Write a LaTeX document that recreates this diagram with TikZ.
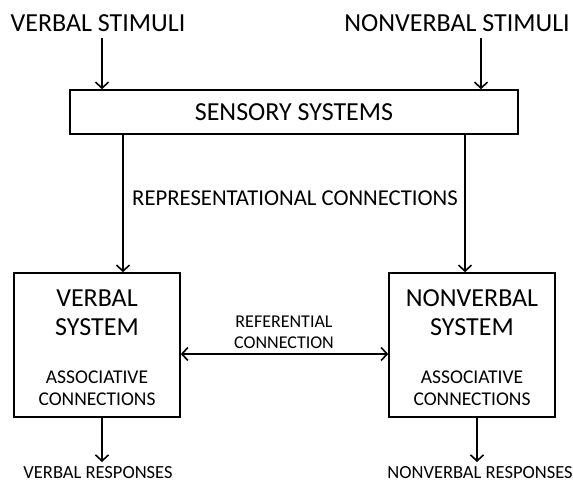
\documentclass[tikz,border=0pt]{standalone}
\usepackage{fontspec}
\setmainfont{Carlito}
\usetikzlibrary{arrows.meta}
\begin{document}
\begin{tikzpicture}[x=1pt,y=-1pt,
  arr/.style={line width=1.6pt,-{Straight Barb[length=6pt,width=13pt,line width=1.6pt]}},
  darr/.style={line width=1.6pt,{Straight Barb[length=6pt,width=13pt,line width=1.6pt]}-{Straight Barb[length=6pt,width=13pt,line width=1.6pt]}},
  boxa/.style={draw,line width=1.6pt,inner sep=0pt},
  big/.style={font=\fontsize{26}{29}\selectfont,inner sep=0pt,align=center},
  mid/.style={font=\fontsize{26}{29}\selectfont,inner sep=0pt},
  rept/.style={font=\fontsize{22.7}{26}\selectfont,inner sep=0pt},
  small/.style={font=\fontsize{19.5}{22}\selectfont,inner sep=0pt,align=center},
  tiny/.style={font=\fontsize{18}{21}\selectfont,inner sep=0pt,align=center},
  resp/.style={font=\fontsize{18.5}{21}\selectfont,inner sep=0pt}]
\useasboundingbox[fill=white] (0,0) rectangle (573,491);
% texts
\node[mid] (vs) at (98,23) {VERBAL STIMULI};
\node[mid] (ns) at (457,23) {NONVERBAL STIMULI};
\node[boxa,minimum width=448pt,minimum height=44pt] (sens) at (294,112) {};
\node[mid] at (sens.center) {SENSORY SYSTEMS};
\node[rept] (rep) at (295,198) {REPRESENTATIONAL CONNECTIONS};
\node[boxa,minimum width=166pt,minimum height=144pt] (vb) at (97,345) {};
\node[boxa,minimum width=166pt,minimum height=144pt] (nb) at (472,345) {};
\node[big] at (97,313) {VERBAL\\SYSTEM};
\node[big] at (472,313) {NONVERBAL\\SYSTEM};
\node[small] at (97,388) {ASSOCIATIVE\\CONNECTIONS};
\node[small] at (472,388) {ASSOCIATIVE\\CONNECTIONS};
\node[tiny] (ref) at (284,332) {REFERENTIAL\\CONNECTION};
\node[resp] (vr) at (98,473) {VERBAL RESPONSES};
\node[resp] (nr) at (480,473) {NONVERBAL RESPONSES};
% connectors
\coordinate (a1) at (102,38);
\coordinate (a2) at (481,38);
\draw[arr] (a1) -- (a1 |- sens.north);
\draw[arr] (a2) -- (a2 |- sens.north);
\coordinate (l1) at (123,0);
\coordinate (l2) at (465,0);
\draw[arr] (l1 |- sens.south) -- (l1 |- vb.north);
\draw[arr] (l2 |- sens.south) -- (l2 |- nb.north);
\coordinate (r) at (0,354);
\draw[darr] (r -| vb.east) -- (r -| nb.west);
\coordinate (o1) at (102,462);
\coordinate (o2) at (477,462);
\draw[arr] (o1 |- vb.south) -- (o1);
\draw[arr] (o2 |- nb.south) -- (o2);
\end{tikzpicture}
\end{document}
